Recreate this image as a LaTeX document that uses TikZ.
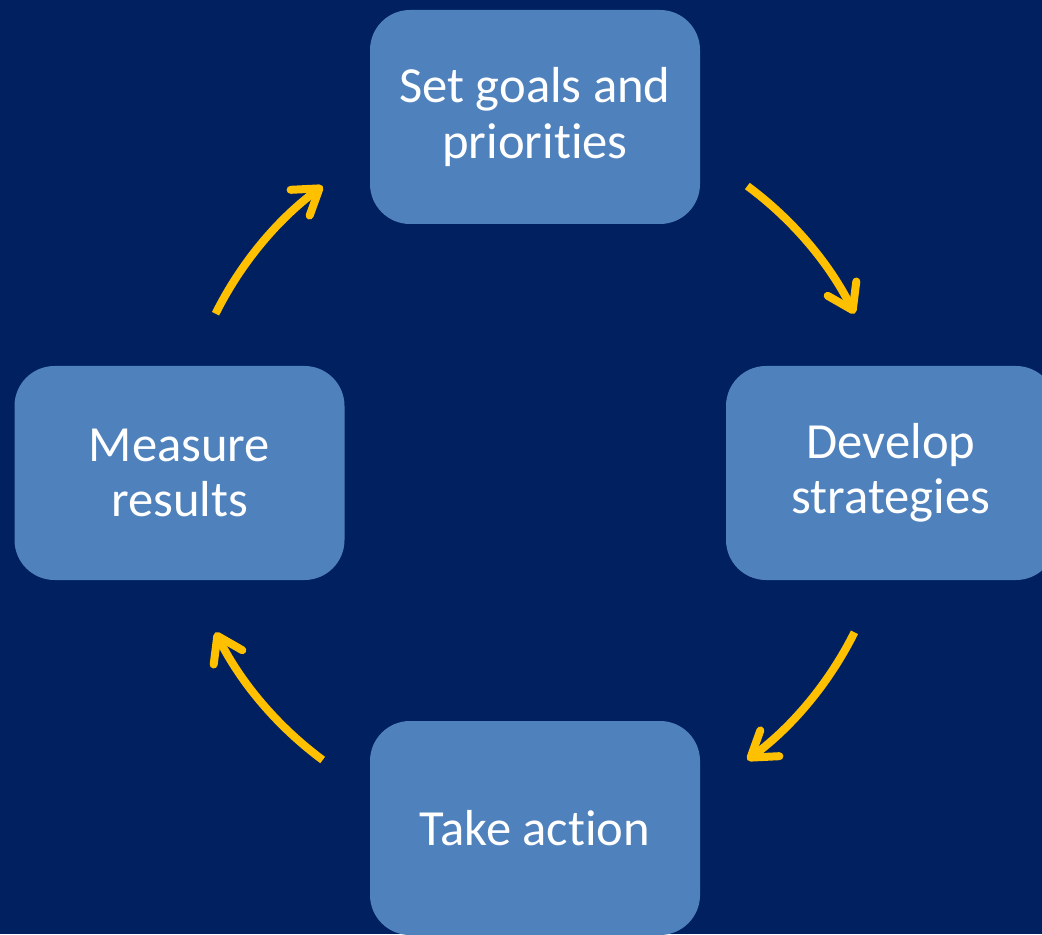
\documentclass[tikz,border=0pt]{standalone}
\usepackage{fontspec}
\setmainfont{Carlito}[Ligatures=NoCommon]
\usetikzlibrary{arrows.meta}
\definecolor{navy}{HTML}{002060}
\definecolor{boxblue}{HTML}{4F81BD}
\definecolor{amber}{HTML}{FFC000}
\begin{document}
\begin{tikzpicture}[
  stagebox/.style={fill=boxblue,draw=none,rounded corners=1cm,minimum width=8.25cm,
    minimum height=5.35cm,inner sep=0pt,align=center,text=white,
    font=\fontsize{36}{39.5}\selectfont},
  cyclearrow/.style={draw=amber,line width=0.2cm,
    -{Straight Barb[length=0.6cm,width=0.8cm,round]}}]
\useasboundingbox (0,0) rectangle (26.05,23.35);
\fill[navy] (0,0) rectangle (26.05,23.35);
\clip (0,0) rectangle (26.05,23.35);
\node[stagebox] (goals) at (13.375,20.425) {Set goals and\\priorities};
\node[stagebox] (strategies) at (22.275,11.525) {Develop\\strategies};
\node[stagebox] (action) at (13.375,2.65) {Take action};
\node[stagebox] (measure) at (4.4875,11.525) {Measure\\results};
\coordinate (hub) at (13.375,11.525);
\draw[cyclearrow] ([shift={(53.5:8.925)}]hub) arc[start angle=53.5,end angle=26.5,radius=8.925cm];
\draw[cyclearrow] ([shift={(-26.5:8.925)}]hub) arc[start angle=-26.5,end angle=-53.5,radius=8.925cm];
\draw[cyclearrow] ([shift={(233.5:8.925)}]hub) arc[start angle=233.5,end angle=206.5,radius=8.925cm];
\draw[cyclearrow] ([shift={(153.5:8.925)}]hub) arc[start angle=153.5,end angle=126.5,radius=8.925cm];
\end{tikzpicture}
\end{document}
